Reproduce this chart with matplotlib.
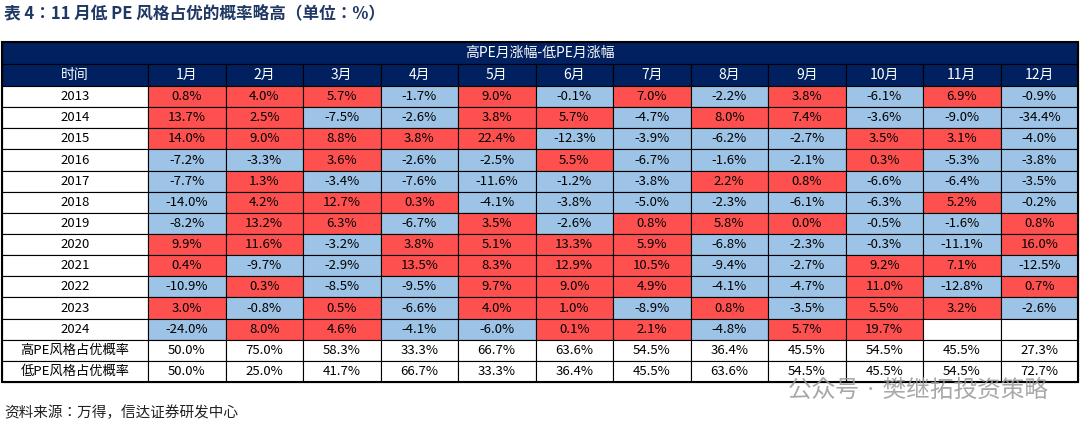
import matplotlib
matplotlib.use("Agg")
import matplotlib.pyplot as plt
from matplotlib.patches import Rectangle
from matplotlib import font_manager

cjk = [f.name for f in font_manager.fontManager.ttflist if "CJK" in f.name]
pref = [n for n in ["Noto Sans CJK SC", "Noto Sans CJK JP", "Noto Sans CJK TC", "Noto Sans CJK KR"] if n in cjk]
fam = (pref[:1] or cjk[:1]) + ["DejaVu Sans"]
plt.rcParams["font.family"] = fam

years = ["2013","2014","2015","2016","2017","2018","2019","2020","2021","2022","2023","2024"]
months = ["1月","2月","3月","4月","5月","6月","7月","8月","9月","10月","11月","12月"]
values = [
 [0.8,4.0,5.7,-1.7,9.0,-0.1,7.0,-2.2,3.8,-6.1,6.9,-0.9],
 [13.7,2.5,-7.5,-2.6,3.8,5.7,-4.7,8.0,7.4,-3.6,-9.0,-34.4],
 [14.0,9.0,8.8,3.8,22.4,-12.3,-3.9,-6.2,-2.7,3.5,3.1,-4.0],
 [-7.2,-3.3,3.6,-2.6,-2.5,5.5,-6.7,-1.6,-2.1,0.3,-5.3,-3.8],
 [-7.7,1.3,-3.4,-7.6,-11.6,-1.2,-3.8,2.2,0.8,-6.6,-6.4,-3.5],
 [-14.0,4.2,12.7,0.3,-4.1,-3.8,-5.0,-2.3,-6.1,-6.3,5.2,-0.2],
 [-8.2,13.2,6.3,-6.7,3.5,-2.6,0.8,5.8,0.0,-0.5,-1.6,0.8],
 [9.9,11.6,-3.2,3.8,5.1,13.3,5.9,-6.8,-2.3,-0.3,-11.1,16.0],
 [0.4,-9.7,-2.9,13.5,8.3,12.9,10.5,-9.4,-2.7,9.2,7.1,-12.5],
 [-10.9,0.3,-8.5,-9.5,9.7,9.0,4.9,-4.1,-4.7,11.0,-12.8,0.7],
 [3.0,-0.8,0.5,-6.6,4.0,1.0,-8.9,0.8,-3.5,5.5,3.2,-2.6],
 [-24.0,8.0,4.6,-4.1,-6.0,0.1,2.1,-4.8,5.7,19.7,None,None],
]
prob_labels = ["高PE风格占优概率","低PE风格占优概率"]
prob_high = [50.0,75.0,58.3,33.3,66.7,63.6,54.5,36.4,45.5,54.5,45.5,27.3]
prob_low = [50.0,25.0,41.7,66.7,33.3,36.4,45.5,63.6,54.5,45.5,54.5,72.7]

RED = "#FF5050"; BLUE = "#9DC3E6"; NAVY = "#002060"

W, H = 1080, 432
fig = plt.figure(figsize=(W/100, H/100), dpi=100)
ax = fig.add_axes([0, 0, 1, 1])
ax.set_xlim(0, W); ax.set_ylim(H, 0); ax.axis("off")

x0, x1 = 2, 1078
c0 = 148
cw = (x1 - c0) / 12
y0 = 42
hh = 22
rh = (382 - (y0 + 2*hh)) / 14

def cell(x, y, w, h, fc, txt, tc="black", fs=9.5):
    ax.add_patch(Rectangle((x, y), w, h, facecolor=fc, edgecolor="black", lw=0.8))
    if txt:
        ax.text(x + w/2, y + h/2, txt, ha="center", va="center", fontsize=fs, color=tc)

ax.add_patch(Rectangle((x0, y0), x1-x0, hh, facecolor=NAVY, edgecolor="black", lw=0.8))
ax.text((x0+x1)/2, y0+hh/2, "高PE月涨幅-低PE月涨幅", ha="center", va="center", color="white", fontsize=10)
cell(x0, y0+hh, c0-x0, hh, NAVY, "时间", "white", 10)
for j, m in enumerate(months):
    cell(c0+j*cw, y0+hh, cw, hh, NAVY, m, "white", 10)

ys = y0 + 2*hh
for i, yr in enumerate(years):
    y = ys + i*rh
    cell(x0, y, c0-x0, rh, "white", yr)
    for j, v in enumerate(values[i]):
        if v is None:
            cell(c0+j*cw, y, cw, rh, "white", "")
        else:
            cell(c0+j*cw, y, cw, rh, RED if v >= 0 else BLUE, f"{v:.1f}%")
for k, row in enumerate([prob_high, prob_low]):
    y = ys + (12+k)*rh
    cell(x0, y, c0-x0, rh, "white", prob_labels[k])
    for j, v in enumerate(row):
        cell(c0+j*cw, y, cw, rh, "white", f"{v:.1f}%")

ax.add_patch(Rectangle((x0, y0), x1-x0, ys + 14*rh - y0, fill=False, edgecolor="black", lw=1.5))

ax.text(4, 13, "表 4：11 月低 PE 风格占优的概率略高（单位：%）", ha="left", va="center",
        fontsize=12, fontweight="bold", color="#1F3864")
ax.text(4, 413, "资料来源：万得，信达证券研发中心", ha="left", va="center",
        fontsize=10.5, style="italic", color="#222222")
ax.text(1048, 390, "公众号 · 樊继拓投资策略", ha="right", va="center",
        fontsize=17, color="#999999", alpha=0.85)

fig.savefig("out.png", dpi=100)
